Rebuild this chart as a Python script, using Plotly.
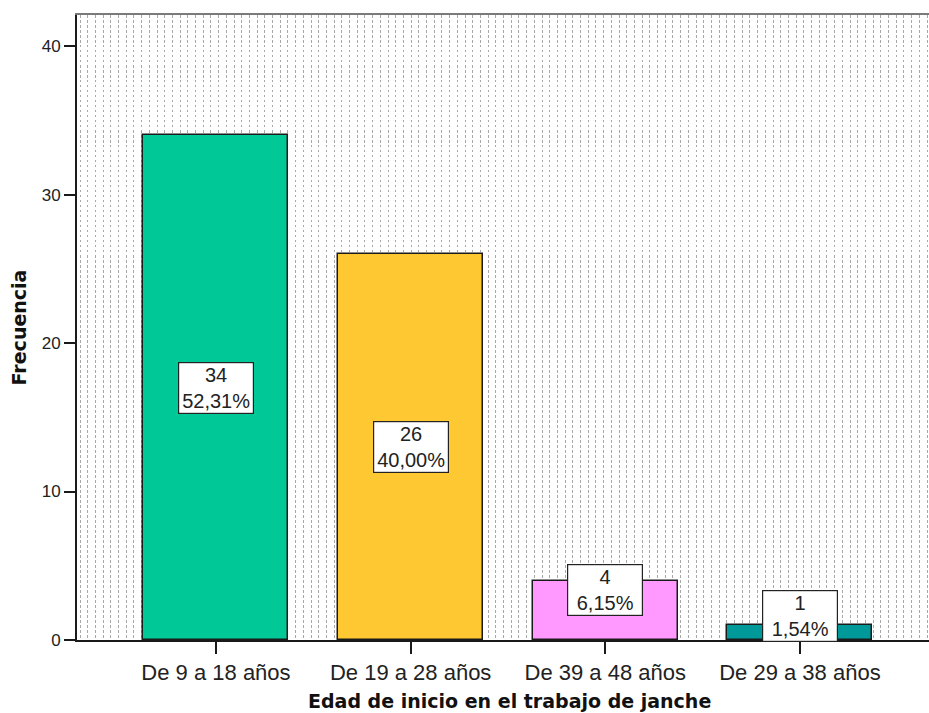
import plotly.graph_objects as go

# ---- data ----
categories = ["De 9 a 18 años", "De 19 a 28 años", "De 39 a 48 años", "De 29 a 38 años"]
counts = [34, 26, 4, 1]
colors = ["#00C896", "#FDC832", "#FF99FF", "#009999"]
y_ticks = [0, 10, 20, 30, 40]
x_title = "Edad de inicio en el trabajo de janche"
y_title = "Frecuencia"

total = sum(counts)
labels = [f"{c}<br>{c / total * 100:.2f}%".replace(".", ",") for c in counts]
# label anchor heights (layout placement of the value boxes)
label_y = [17.0, 13.0, 3.35, 1.65]

FONT = "Liberation Sans, Arial, sans-serif"
BOLD = "DejaVu Sans, Verdana, sans-serif"

fig = go.Figure()
fig.add_trace(go.Bar(
    x=list(range(len(categories))), y=counts,
    marker=dict(color=colors, line=dict(color="#1a1a1a", width=1.5)),
    width=0.745, showlegend=False, hoverinfo="skip",
))
# dummy trace to activate dotted-background overlay axis
fig.add_trace(go.Scatter(x=[None], y=[None], xaxis="x2", yaxis="y", showlegend=False))

for i, (lab, ly) in enumerate(zip(labels, label_y)):
    fig.add_annotation(
        x=i, y=ly, xref="x", yref="y", text=lab, showarrow=False,
        font=dict(family=FONT, size=20, color="#222222"),
        bgcolor="white", bordercolor="#222222", borderwidth=1.2, borderpad=1,
        width=72, height=48, yanchor="middle", xanchor="center",
    )

# x-axis title (placed as paper annotation so it can sit at the bottom edge)
fig.add_annotation(
    x=(510 - 77) / (929 - 77), y=0, xref="paper", yref="paper",
    yanchor="middle", xanchor="center", yshift=-61,
    text=f"<b>{x_title}</b>", showarrow=False,
    font=dict(family=BOLD, size=19, color="#111111"),
)

fig.update_layout(
    width=929, height=713,
    margin=dict(l=77, r=0, t=15, b=73, autoexpand=False),
    paper_bgcolor="white", plot_bgcolor="white",
    bargap=0,
    xaxis=dict(
        range=[-0.714, 3.663], tickmode="array",
        tickvals=list(range(len(categories))), ticktext=categories,
        showgrid=False, zeroline=False,
        showline=True, linecolor="#1a1a1a", linewidth=2,
        ticks="outside", ticklen=12, tickwidth=1.5, tickcolor="#1a1a1a",
        tickfont=dict(family=FONT, size=22, color="#222222"),
        automargin=False,
    ),
    xaxis2=dict(
        overlaying="x", side="top", range=[0, 852], tick0=3, dtick=7.7,
        showgrid=True, griddash="2.5px,2.5px", gridcolor="#a8a8a8", gridwidth=1.3,
        showticklabels=False, ticks="", zeroline=False,
        showline=True, linecolor="#7a7a7a", linewidth=2,
    ),
    yaxis=dict(
        range=[0, 42.1], tickmode="array", tickvals=y_ticks,
        showgrid=False, zeroline=False,
        showline=True, linecolor="#1a1a1a", linewidth=2,
        ticks="outside", ticklen=11, tickwidth=1.5, tickcolor="#1a1a1a",
        tickfont=dict(family=FONT, size=17, color="#222222"),
        title=dict(text=f"<b>{y_title}</b>",
                   font=dict(family=BOLD, size=19, color="#111111"), standoff=10),
        automargin=False,
    ),
)

fig.write_html("out.html", config={"displayModeBar": False},
               post_script="document.body.style.margin='0';")
